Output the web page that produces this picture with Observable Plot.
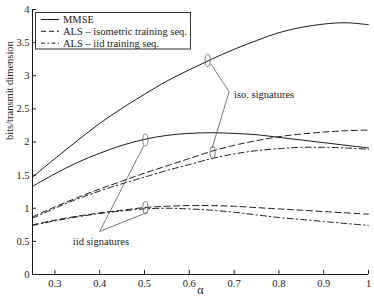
<!DOCTYPE html>
<html><head><meta charset="utf-8">
<script src="https://cdn.jsdelivr.net/npm/d3@7"></script>
<script src="https://cdn.jsdelivr.net/npm/@observablehq/plot@0.6"></script>
<style>
body{margin:0;background:#fff}
#chart{position:relative;width:374px;height:301px}
#chart svg, #chart svg text{font-family:"Liberation Serif","Times New Roman",Times,serif !important}
</style>
</head><body><div id="chart"></div>
<script>
const alpha      = [0.25,0.30,0.35,0.40,0.45,0.50,0.55,0.60,0.65,0.70,0.75,0.80,0.85,0.90,0.95,1.00];
const mmseIso    = [1.47,1.75,2.02,2.28,2.51,2.72,2.92,3.09,3.25,3.40,3.53,3.65,3.73,3.78,3.80,3.77];
const mmseIid    = [1.33,1.52,1.69,1.83,1.95,2.04,2.10,2.13,2.14,2.13,2.11,2.07,2.03,1.99,1.95,1.91];
const alsIsoTrIsoSig = [0.87,1.02,1.16,1.29,1.41,1.53,1.64,1.75,1.86,1.95,2.02,2.08,2.12,2.15,2.17,2.18];
const alsIidTrIsoSig = [0.85,1.00,1.14,1.26,1.37,1.47,1.57,1.66,1.75,1.82,1.87,1.90,1.92,1.92,1.91,1.89];
const alsIsoTrIidSig = [0.75,0.82,0.88,0.93,0.97,1.01,1.03,1.04,1.04,1.03,1.01,0.99,0.97,0.95,0.93,0.91];
const alsIidTrIidSig = [0.74,0.81,0.87,0.92,0.96,0.99,1.00,0.99,0.97,0.94,0.90,0.86,0.83,0.80,0.77,0.74];

const xTicks = [0.3,0.4,0.5,0.6,0.7,0.8,0.9,1];
const yTicks = [0,0.5,1,1.5,2,2.5,3,3.5,4];
const legendLabels = ["MMSE","ALS – isometric training seq.","ALS – iid training seq."];

// annotation anchors (data space)
const ellipseCenters = [{x:0.641,y:3.23},{x:0.652,y:1.84},{x:0.502,y:2.03},{x:0.502,y:1.01}];
const isoPointer = [{x:0.649,y:3.17},{x:0.689,y:2.76},{x:0.651,y:1.91}];
const iidPointer = [{x:0.498,y:1.94},{x:0.400,y:0.65},{x:0.507,y:0.94}];
const notes = [{x:0.70,y:2.71,text:"iso. signatures"},{x:0.34,y:0.50,text:"iid signatures"}];

const series = [
  {name:"MMSE iso",  vals:mmseIso,  style:"solid"},
  {name:"MMSE iid",  vals:mmseIid,  style:"solid"},
  {name:"ALS iso tr iso",  vals:alsIsoTrIsoSig, style:"dash"},
  {name:"ALS iso tr iid",  vals:alsIsoTrIidSig, style:"dash"},
  {name:"ALS iid tr iso",  vals:alsIidTrIsoSig, style:"dashdot"},
  {name:"ALS iid tr iid",  vals:alsIidTrIidSig, style:"dashdot"}
];
const rows = series.flatMap(s => s.vals.map((v,i) => ({series:s.name, style:s.style, a:alpha[i], v})));
const dashes = {solid:null, dash:"6,3.5", dashdot:"6,3,1.5,3"};

const W = 374, H = 301, mL = 32, mR = 6, mT = 9, mB = 27;
const fw = W - mL - mR, fh = H - mT - mB;
const ink = "#1c1c1c";
const serif = "Liberation Serif, Times New Roman, serif";
const fs = 10.5;

const ellipseSymbol = {draw(ctx){
  const rx = 2.6, ry = 6.3, k = 0.5523;
  ctx.moveTo(rx,0);
  ctx.bezierCurveTo(rx, ry*k, rx*k, ry, 0, ry);
  ctx.bezierCurveTo(-rx*k, ry, -rx, ry*k, -rx, 0);
  ctx.bezierCurveTo(-rx, -ry*k, -rx*k, -ry, 0, -ry);
  ctx.bezierCurveTo(rx*k, -ry, rx, -ry*k, rx, 0);
  ctx.closePath();
}};

const lineMarks = ["solid","dash","dashdot"].map(st =>
  Plot.line(rows.filter(r => r.style === st), {x:"a", y:"v", z:"series", stroke:ink, strokeWidth:1,
    strokeDasharray: dashes[st], curve:"catmull-rom"}));

const fmt = d => String(d);

const plot = Plot.plot({
  width: W, height: H,
  marginLeft: mL, marginRight: mR, marginTop: mT, marginBottom: mB,
  style: {fontFamily: serif, fontSize: fs + "px", color: ink, background:"#fff"},
  x: {domain:[0.25,1]},
  y: {domain:[0,4]},
  marks: [
    Plot.axisX(xTicks, {tickSize:0, tickPadding:5, label:null, fontSize:fs, tickFormat:fmt}),
    Plot.axisY(yTicks, {tickSize:0, tickPadding:3, label:null, fontSize:fs, tickFormat:fmt}),
    Plot.tickX(xTicks, {x:d=>d, insetTop: fh-4, stroke:ink, strokeWidth:1}),
    Plot.tickY(yTicks, {y:d=>d, insetRight: fw-4, stroke:ink, strokeWidth:1}),
    Plot.ruleX([0.25], {stroke:ink, strokeWidth:1}),
    Plot.ruleY([0], {stroke:ink, strokeWidth:1}),
    ...lineMarks,
    Plot.line(isoPointer, {x:"x", y:"y", stroke:"#555", strokeWidth:0.8}),
    Plot.line(iidPointer, {x:"x", y:"y", stroke:"#555", strokeWidth:0.8}),
    Plot.dot(ellipseCenters, {x:"x", y:"y", symbol:ellipseSymbol, stroke:"#555", strokeWidth:0.8, fill:"none", r:3}),
    Plot.text(notes, {x:"x", y:"y", text:"text", textAnchor:"start", fill:ink, fontSize:fs}),
    Plot.text(["α"], {frameAnchor:"bottom", dy:19, fill:ink, fontSize:12}),
    Plot.text(["bits/transmit dimension"], {frameAnchor:"left", rotate:-90, dx:-23, dy:-2, fill:ink, fontSize:fs})
  ]
});
document.getElementById("chart").appendChild(plot);

// legend box inside the frame, top-left
const svg = d3.select(plot);
const lg = svg.append("g").attr("font-size",fs).attr("text-anchor","start");
lg.append("rect").attr("x",35.5).attr("y",12.5).attr("width",155).attr("height",36.5)
  .attr("fill","#fff").attr("stroke","#333").attr("stroke-width",1);
const styles = ["solid","dash","dashdot"];
const legendDash = {solid:null, dash:"5,3", dashdot:"4,2.5,1.5,2.5"};
legendLabels.forEach((lab,i) => {
  const yy = 19.5 + i*11.8;
  lg.append("line").attr("x1",41).attr("x2",59).attr("y1",yy).attr("y2",yy)
    .attr("stroke",ink).attr("stroke-width",1).attr("stroke-dasharray", legendDash[styles[i]]);
  lg.append("text").attr("x",63).attr("y",yy).attr("dy","0.35em").attr("fill",ink)
    .attr("text-anchor","start").text(lab);
});
svg.selectAll("text").attr("font-family", serif).style("font-family", serif);
</script>
</body></html>
